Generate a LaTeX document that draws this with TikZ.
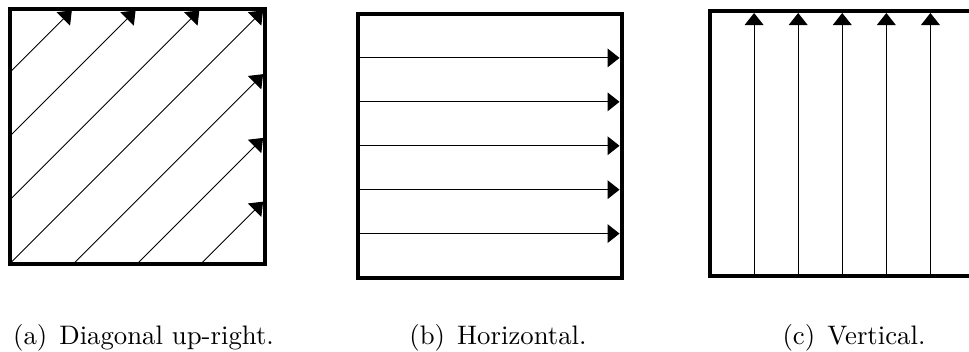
\documentclass[tikz,border=0pt]{standalone}
\usepackage{tikz}
\usetikzlibrary{arrows.meta}

\tikzset{
  frame/.style={line width=1.6pt},
  flow/.style={line width=0.4pt, shorten >=0.8pt,
               -{Triangle[length=4.8pt, width=7.5pt]}},
  caption/.style={anchor=base, inner sep=0pt,
                  font=\fontsize{10.7pt}{13pt}\selectfont}
}

\begin{document}
\begin{tikzpicture}[x=1pt, y=1pt]
    \useasboundingbox (0,0) rectangle (387.6,140.4);

    % Panel (a): diagonal up-right
    \begin{scope}[shift={(3.8,34.8)}]
      \def\side{102}
      \foreach \k in {1,2,3} {
        \draw[flow] (0,\k*\side/4) -- ({\side-\k*\side/4},\side);
        \draw[flow] (\k*\side/4,0) -- (\side,{\side-\k*\side/4});
      }
      \draw[flow] (0,0) -- (\side,\side);
      \draw[frame] (0,0) rectangle (\side,\side);
    \end{scope}

    % Panel (b): horizontal
    \begin{scope}[shift={(143.2,29.4)}]
      \def\side{105.4}
      \foreach \k in {1,...,5} {
        \draw[flow] (0,\k*\side/6) -- (\side,\k*\side/6);
      }
      \draw[frame] (0,0) rectangle (\side,\side);
    \end{scope}

    % Panel (c): vertical
    \begin{scope}[shift={(284,30.2)}]
      \def\side{105.8}
      \foreach \k in {1,...,5} {
        \draw[flow] (\k*\side/6,0) -- (\k*\side/6,\side);
      }
      \draw[frame] (0,0) rectangle (\side,\side);
    \end{scope}

    % Captions
    \node[caption] (capa) at (57.4,2.8) {(a)\hspace{0.45em}Diagonal up-right.};
    \node[caption] (capb) at (199.2,2.8) {(b)\hspace{0.45em}Horizontal.};
    \node[caption] (capc) at (341.6,2.8) {(c)\hspace{0.45em}Vertical.};

  \end{tikzpicture}
\end{document}
